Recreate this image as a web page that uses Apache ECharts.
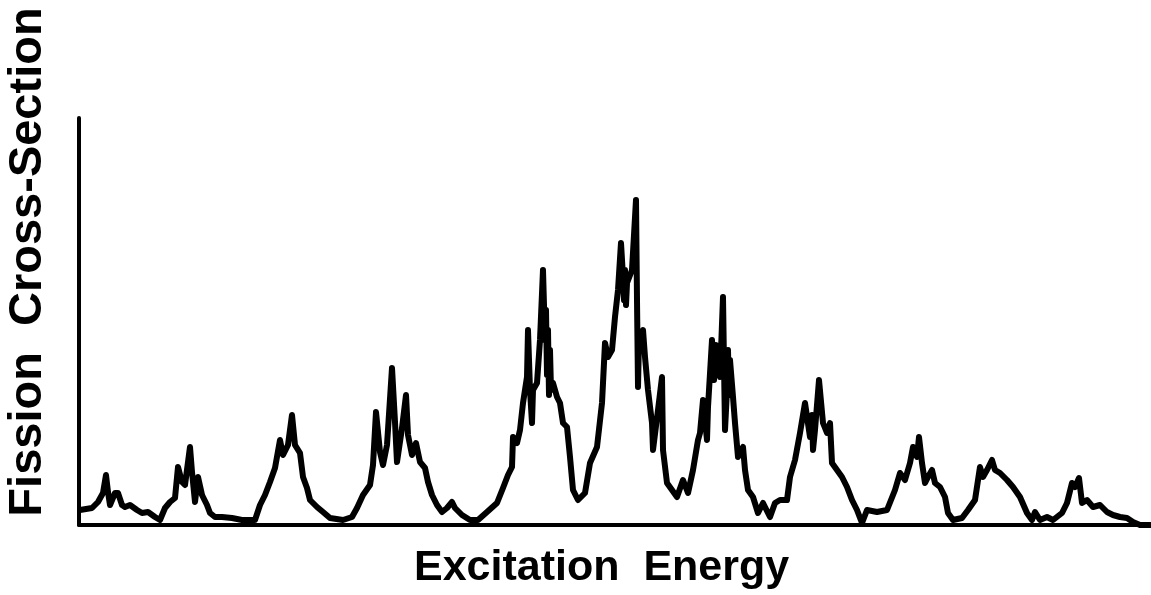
<!DOCTYPE html>
<html>
<head>
<meta charset="utf-8">
<script src="https://cdn.jsdelivr.net/npm/echarts@6/dist/echarts.min.js"></script>
<style>
  html, body { margin: 0; padding: 0; background: #fff; }
  #chart { width: 1151px; height: 595px; }
</style>
</head>
<body>
<div id="chart"></div>
<script>
// Excitation energy (arbitrary channel units) and fission cross-section (arbitrary units)
var energy = [
  1, 3, 13, 19, 24, 27, 29, 31, 36, 39, 43, 46, 51, 58, 63, 69, 76, 81,
  86, 91, 96, 99, 103, 106, 111, 113, 116, 119, 123, 128, 131, 136, 143, 153, 163, 176,
  181, 186, 191, 196, 201, 204, 209, 213, 216, 221, 224, 228, 231, 238, 244, 251, 264, 273,
  278, 284, 291, 294, 297, 301, 304, 308, 313, 316, 318, 323, 327, 329, 333, 337, 341, 346,
  349, 353, 358, 363, 368, 373, 376, 383, 391, 399, 408, 418, 424, 429,
  433, 434, 438, 441, 444, 448, 449, 451, 453, 454, 458, 461, 464, 466,
  467, 468, 469, 470, 471, 472, 474, 478, 481, 484, 488, 491, 494, 499,
  506, 511, 518, 523, 526, 529, 533, 536, 539, 542, 544, 545, 546, 547, 548, 553,
  557, 558, 559, 560, 564, 566, 569, 573, 574, 579, 583, 584, 588, 593, 598, 604, 609, 614,
  619, 621, 624, 628, 629, 633, 635, 637, 638, 641, 644, 646, 648, 649, 650, 651, 654, 656,
  659, 664, 666, 669, 674, 679, 684, 691, 696, 701, 708, 711, 716, 721, 726, 731, 733, 734,
  736, 740, 744, 748, 751, 753, 758, 763, 768, 773, 778, 783, 788, 798, 808,
  816, 821, 826, 831, 834, 838, 840, 843, 846, 849, 853, 856, 861, 866, 869, 874, 883,
  889, 896, 901, 904, 908, 913, 916, 921, 928, 934, 941, 948, 953, 956, 961, 968, 974,
  983, 988, 993, 996, 1000, 1003, 1008, 1014, 1021, 1028, 1034, 1041, 1048, 1054, 1061, 1071
];
var crossSection = [
  15, 15, 17, 23, 32, 50, 33, 20, 32, 32, 20, 18, 20, 15, 12, 13, 8, 5,
  17, 23, 27, 58, 43, 40, 78, 53, 23, 48, 30, 20, 12, 8, 8, 7, 5, 5,
  20, 30, 43, 57, 85, 70, 80, 110, 80, 72, 48, 37, 25, 18, 13, 7, 5, 8,
  17, 30, 40, 60, 113, 73, 60, 80, 157, 103, 63, 97, 130, 90, 70, 82, 63, 57,
  43, 30, 20, 13, 17, 23, 17, 10, 5, 5, 13, 22, 37, 50,
  58, 88, 82, 95, 122, 148, 195, 135, 102, 135, 142, 185, 255, 185,
  215, 150, 195, 130, 175, 135, 142, 128, 122, 102, 98, 68, 35, 25,
  32, 62, 78, 122, 182, 168, 175, 208, 235, 282, 248, 225, 255, 220, 242, 255,
  325, 225, 138, 185, 195, 168, 135, 102, 75, 115, 148, 75, 42, 35, 28, 45, 32, 55,
  85, 92, 125, 85, 118, 185, 145, 180, 168, 148, 228, 95, 135, 175, 130, 165, 128, 102,
  68, 78, 55, 35, 28, 12, 22, 8, 22, 25, 25, 48, 65, 92, 122, 88, 110, 75,
  95, 145, 102, 92, 102, 62, 55, 48, 38, 25, 15, 2, 15, 13, 15,
  35, 52, 45, 62, 78, 68, 88, 62, 42, 48, 55, 42, 38, 28, 12, 5, 7,
  15, 25, 58, 48, 55, 65, 55, 52, 45, 38, 28, 12, 5, 13, 5, 8, 5,
  12, 22, 42, 38, 47, 22, 25, 18, 20, 13, 10, 8, 7, 3, 0, 0
];
var xTitle = 'Excitation  Energy';
var yTitle = 'Fission  Cross-Section';

var points = energy.map(function (e, i) { return [e, crossSection[i]]; });

var chart = echarts.init(document.getElementById('chart'), null, { renderer: 'canvas' });
var axisStyle = {
  axisLine: { show: true, lineStyle: { color: '#000', width: 4, cap: 'round' } },
  axisTick: { show: false },
  axisLabel: { show: false },
  splitLine: { show: false }
};
chart.setOption({
  animation: false,
  backgroundColor: '#fff',
  grid: { left: 79, right: 1, top: 118, bottom: 70 },
  xAxis: Object.assign({ type: 'value', min: 0, max: 1071 }, axisStyle),
  yAxis: Object.assign({ type: 'value', min: 0, max: 407 }, axisStyle),
  series: [{
    type: 'line',
    data: points,
    showSymbol: false,
    clip: false,
    lineStyle: { color: '#000', width: 6, join: 'round', cap: 'round' }
  }],
  graphic: [
    {
      type: 'text', left: 414, top: 547,
      style: {
        text: xTitle, fill: '#000',
        font: 'bold 43px "Liberation Sans", Arial, sans-serif'
      }
    },
    {
      type: 'text', x: 28, y: 262, rotation: Math.PI / 2,
      style: {
        text: yTitle, fill: '#000', align: 'center', verticalAlign: 'middle',
        font: 'bold 47px "Liberation Sans", Arial, sans-serif'
      }
    }
  ]
});
</script>
</body>
</html>
